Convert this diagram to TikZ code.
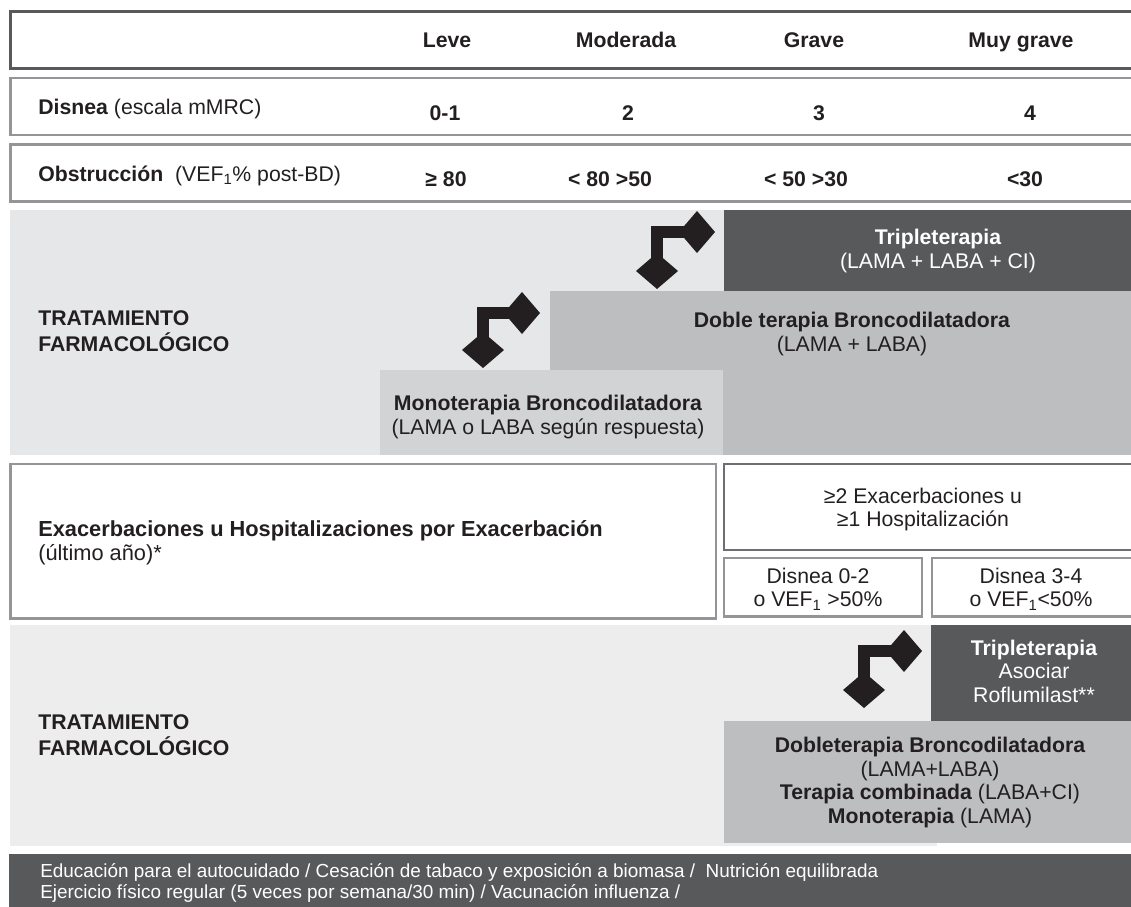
\documentclass[tikz,border=0pt]{standalone}
\usepackage{fontspec}
\setmainfont{Liberation Sans}
\usetikzlibrary{arrows.meta}

\definecolor{darkPanel}{HTML}{58595B}
\definecolor{midPanel}{HTML}{BCBEC0}
\definecolor{softPanel}{HTML}{D1D3D4}
\definecolor{paleOne}{HTML}{E6E7E8}
\definecolor{paleTwo}{HTML}{EDEDEE}
\definecolor{frameGray}{HTML}{939598}
\definecolor{frameDark}{HTML}{6D6E71}
\definecolor{inkBlack}{HTML}{231F20}

\newcommand\tabfont{\fontsize{15.1}{16.7}\selectfont}
\newcommand\barfont{\fontsize{13.45}{14.3}\selectfont}

\begin{document}
\begin{tikzpicture}[x=0.025cm, y=-0.025cm,
  cellText/.style={inner sep=0pt, text=inkBlack, font=\tabfont},
  headText/.style={cellText, font=\tabfont\bfseries, anchor=base},
  panelText/.style={cellText, align=center},
  stepArrow/.style={line width=0.3cm, draw=inkBlack,
    {Kite[length=0.9cm,width=1.05cm,inset=0.45cm,line width=0pt]}-{Kite[length=0.9cm,width=1.05cm,inset=0.45cm,line width=0pt]}}]
  \useasboundingbox (0,0) rectangle (1131,907);
  \clip (0,0) rectangle (1131,907);

  % severity rows
  \draw[line width=0.075cm, draw=darkPanel] (10.5,11.5) rectangle (1150,68.5);
  \draw[line width=0.0625cm, draw=frameGray] (10.25,78.25) rectangle (1150,135);
  \draw[line width=0.0625cm, draw=frameGray] (10.25,144.25) rectangle (1150,201.5);

  \node[headText] (leve) at (447,48) {Leve};
  \node[headText] (moderada) at (626,48) {Moderada};
  \node[headText] (grave) at (814,48) {Grave};
  \node[headText] (muyGrave) at (1021,48) {Muy grave};

  \node[cellText, anchor=base west] (disnea) at (38,115) {\textbf{Disnea} (escala mMRC)};
  \node[headText] (disLeve) at (445,120) {0-1};
  \node[headText] (disModerada) at (628,120) {2};
  \node[headText] (disGrave) at (819,120) {3};
  \node[headText] (disMuyGrave) at (1030,120) {4};

  \node[cellText, anchor=base west] (obstruccion) at (38,181)
    {\textbf{Obstrucción}\ \ (VEF\textsubscript{1}\% post-BD)};
  \node[headText] (obsLeve) at (446,186) {≥ 80};
  \node[headText] (obsModerada) at (610,186) {< 80 >50};
  \node[headText] (obsGrave) at (806,186) {< 50 >30};
  \node[headText] (obsMuyGrave) at (1025,186) {<30};

  % first treatment panel
  \fill[paleOne] (10,210) rectangle (1131,455);
  \fill[darkPanel] (724,210) rectangle (1131,291);
  \fill[midPanel] (550,291) rectangle (1131,455);
  \fill[softPanel] (380,370) rectangle (723,455);

  \node[cellText, align=left, anchor=west, font=\fontsize{15.1}{18.5}\selectfont\bfseries]
    (tratamientoA) at (38,331) {TRATAMIENTO\\FARMACOLÓGICO};
  \node[panelText, text=white] (tripleA) at (938,251)
    {\textbf{Tripleterapia}\\(LAMA + LABA + CI)};
  \node[panelText] (dobleA) at (852,334)
    {\textbf{Doble terapia Broncodilatadora}\\(LAMA + LABA)};
  \node[panelText] (monoA) at (548,417)
    {\textbf{Monoterapia Broncodilatadora}\\(LAMA o LABA según respuesta)};

  \coordinate (monoIn) at (483,368);
  \coordinate (dobleIn) at (540,313);
  \coordinate (dobleTop) at (657,289);
  \coordinate (tripleIn) at (715,232);
  \draw[stepArrow] (monoIn) |- (dobleIn);
  \draw[stepArrow] (dobleTop) |- (tripleIn);

  % exacerbation row
  \draw[line width=0.0625cm, draw=frameGray] (10.25,464) rectangle (716,618.5);
  \draw[line width=0.0625cm, draw=frameDark] (724,464) rectangle (1150,550);
  \draw[line width=0.0625cm, draw=frameGray] (724,558) rectangle (922,616.5);
  \draw[line width=0.0625cm, draw=frameGray] (932,558) rectangle (1150,616.5);

  \node[cellText, align=left, anchor=west, font=\fontsize{15.5}{16.9}\selectfont] (exacerbaciones) at (38,543)
    {\textbf{Exacerbaciones u Hospitalizaciones por Exacerbación}\\(último año)*};
  \node[panelText] (umbral) at (923,509.5) {≥2 Exacerbaciones u\\≥1 Hospitalización};
  \node[panelText] (disBaja) at (818,589) {Disnea 0-2\\o VEF\textsubscript{1} >50\%};
  \node[panelText] (disAlta) at (1031,589) {Disnea 3-4\\o VEF\textsubscript{1}<50\%};

  % second treatment panel
  \fill[paleTwo] (10,625) rectangle (937,846);
  \fill[darkPanel] (931,625) rectangle (1131,721);
  \fill[midPanel] (724,721) rectangle (1131,843);

  \node[cellText, align=left, anchor=west, font=\fontsize{15.1}{18.5}\selectfont\bfseries]
    (tratamientoB) at (38,735) {TRATAMIENTO\\FARMACOLÓGICO};
  \node[panelText, text=white] (tripleB) at (1034,671)
    {\textbf{Tripleterapia}\\Asociar\\Roflumilast**};
  \node[panelText] (dobleB) at (930,782.5)
    {\textbf{Dobleterapia Broncodilatadora}\\(LAMA+LABA)\\
     \textbf{Terapia combinada} (LABA+CI)\\\textbf{Monoterapia} (LAMA)};

  \coordinate (dobleBIn) at (864,708);
  \coordinate (tripleBIn) at (922,651);
  \draw[stepArrow] (dobleBIn) |- (tripleBIn);

  % general measures
  \fill[darkPanel] (9,854) rectangle (1131,907);
  \node[cellText, text=white, font=\barfont, align=left, anchor=west] (medidas) at (40,883)
    {Educación para el autocuidado / Cesación de tabaco y exposición a biomasa / \ Nutrición equilibrada\\
     Ejercicio físico regular (5 veces por semana/30 min) / Vacunación influenza /};
\end{tikzpicture}
\end{document}
